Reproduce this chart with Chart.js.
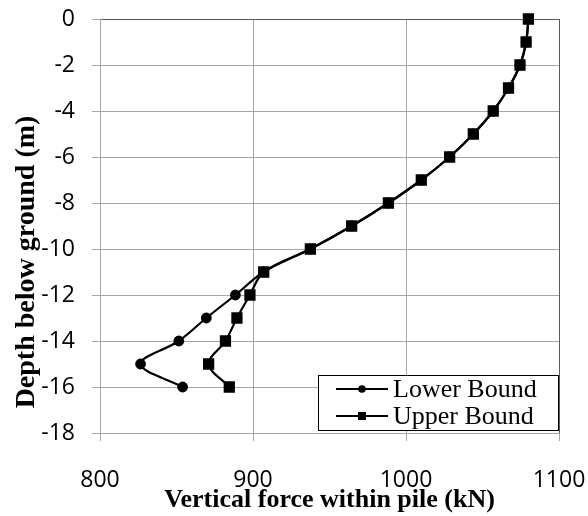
<!DOCTYPE html>
<html>
<head>
<meta charset="utf-8">
<script src="https://cdn.jsdelivr.net/npm/chart.js@4"></script>
<style>
  html, body { margin: 0; padding: 0; background: #fff; }
</style>
</head>
<body>
<canvas id="pileChart" width="588" height="516"></canvas>
<script>
// depth (m) and vertical force (kN)
const depths = [0, -1, -2, -3, -4, -5, -6, -7, -8, -9, -10, -11, -12, -13, -14, -15, -16];
const lowerBound = [1080, 1078.5, 1074.5, 1067, 1057, 1044, 1028.5, 1010, 988.5, 964.5, 937.5, 907, 888.5, 869.5, 851.5, 826.5, 854];
const upperBound = [1080, 1078.5, 1074.5, 1067, 1057, 1044, 1028.5, 1010, 988.5, 964.5, 937.5, 907, 898, 889.5, 882, 871, 884.5];
const xTicks = [800, 900, 1000, 1100];
const yTicks = [0, -2, -4, -6, -8, -10, -12, -14, -16, -18];
const yTitle = 'Depth below ground (m)';

const gridGrey = '#a6a6a6';
const borderDark = '#5a5a5a';

function toPoints(values) {
    return values.map((v, i) => ({ x: v, y: depths[i] }));
}

// legend drawn as a box inside the plot, bottom right
const boxLegend = {
    id: 'boxLegend',
    afterDatasetsDraw(chart) {
        const { ctx, chartArea } = chart;
        const w = 240, h = 55;
        const x0 = chartArea.right - 1 - w;
        const y0 = chartArea.bottom - 3 - h;
        ctx.save();
        ctx.fillStyle = '#fff';
        ctx.fillRect(x0, y0, w, h);
        ctx.strokeStyle = '#000';
        ctx.lineWidth = 1;
        ctx.strokeRect(x0 + 0.5, y0 + 0.5, w, h);

        const rows = [chart.data.datasets[0], chart.data.datasets[1]];
        rows.forEach((ds, i) => {
            const cy = y0 + 14 + i * 27;
            ctx.strokeStyle = '#000';
            ctx.lineWidth = 2;
            ctx.beginPath();
            ctx.moveTo(x0 + 18, cy);
            ctx.lineTo(x0 + 70, cy);
            ctx.stroke();
            ctx.fillStyle = '#000';
            if (ds.pointStyle === 'rect') {
                ctx.fillRect(x0 + 44 - 4, cy - 4, 8, 8);
            } else {
                ctx.beginPath();
                ctx.arc(x0 + 44, cy, 3.8, 0, Math.PI * 2);
                ctx.fill();
            }
            ctx.font = '26px "Liberation Serif"';
            ctx.textAlign = 'left';
            ctx.textBaseline = 'middle';
            ctx.fillText(ds.label, x0 + 75, cy + 1);
        });
        ctx.restore();
    }
};

// vertical axis title, placed a bit below the plot centre like the original
const sideTitle = {
    id: 'sideTitle',
    afterDraw(chart) {
        const { ctx } = chart;
        ctx.save();
        ctx.translate(27, 262);
        ctx.rotate(-Math.PI / 2);
        ctx.font = 'bold 28px "Liberation Serif"';
        ctx.fillStyle = '#000';
        ctx.textAlign = 'center';
        ctx.textBaseline = 'middle';
        ctx.fillText(yTitle, 0, 0);
        ctx.restore();
    }
};

const ctx = document.getElementById('pileChart');

new Chart(ctx, {
    type: 'scatter',
    data: {
        datasets: [{
            label: 'Lower Bound',
            data: toPoints(lowerBound),
            showLine: true,
            borderColor: '#000',
            backgroundColor: '#000',
            borderWidth: 2.2,
            tension: 0.35,
            pointStyle: 'circle',
            pointRadius: 4.3,
            pointHoverRadius: 4.3,
            clip: false,
            order: 2
        }, {
            label: 'Upper Bound',
            data: toPoints(upperBound),
            showLine: true,
            borderColor: '#000',
            backgroundColor: '#000',
            borderWidth: 2.2,
            tension: 0.35,
            pointStyle: 'rect',
            pointRadius: 6.4,
            pointHoverRadius: 6.4,
            clip: false,
            order: 1
        }]
    },
    options: {
        responsive: false,
        animation: false,
        layout: { padding: { top: 19, right: 29, left: 0, bottom: 0 } },
        plugins: {
            legend: { display: false },
            tooltip: { enabled: false }
        },
        scales: {
            x: {
                type: 'linear',
                min: xTicks[0],
                max: xTicks[xTicks.length - 1],
                afterBuildTicks: scale => { scale.ticks = xTicks.map(v => ({ value: v })); },
                afterFit: scale => {
                    scale.height = 83;
                    scale.paddingLeft = 0;
                    scale.paddingRight = 0;
                },
                ticks: {
                    color: '#000',
                    padding: 26,
                    font: { family: '"Open Sans"', size: 23 },
                    callback: v => String(v)
                },
                grid: {
                    color: c => (c.tick && c.tick.value === 1100) ? borderDark : gridGrey,
                    tickColor: gridGrey,
                    tickLength: 8,
                    lineWidth: 1
                },
                border: { color: gridGrey },
                title: {
                    display: true,
                    text: 'Vertical force within pile (kN)',
                    color: '#000',
                    padding: { top: 0, bottom: 0 },
                    font: { family: '"Liberation Serif"', size: 26, weight: 'bold' }
                }
            },
            y: {
                type: 'linear',
                min: yTicks[yTicks.length - 1],
                max: yTicks[0],
                afterBuildTicks: scale => { scale.ticks = yTicks.slice().reverse().map(v => ({ value: v })); },
                afterFit: scale => {
                    scale.width = 100;
                    scale.paddingTop = 0;
                    scale.paddingBottom = 0;
                },
                ticks: {
                    color: '#000',
                    padding: 17,
                    font: { family: '"Open Sans"', size: 23 },
                    callback: v => String(v)
                },
                grid: {
                    color: c => (c.tick && c.tick.value === 0) ? borderDark : gridGrey,
                    tickColor: gridGrey,
                    tickLength: 8,
                    lineWidth: 1
                },
                border: { color: gridGrey }
            }
        }
    },
    plugins: [boxLegend, sideTitle]
});
</script>
</body>
</html>
